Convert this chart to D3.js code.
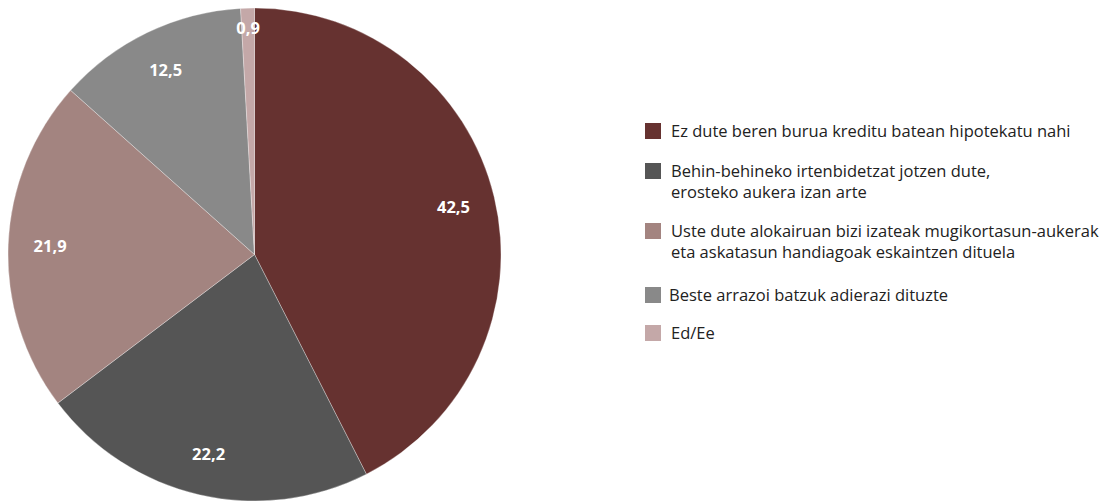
<!DOCTYPE html>
<html><head><meta charset="utf-8">
<script src="https://cdn.jsdelivr.net/npm/d3@7"></script>
<style>
html,body{margin:0;padding:0;background:#fff;}
svg{display:block;}
</style></head>
<body>
<svg id="chart" width="1114" height="501"></svg>
<script>
const categories = [
  ["Ez dute beren burua kreditu batean hipotekatu nahi"],
  ["Behin-behineko irtenbidetzat jotzen dute,", "erosteko aukera izan arte"],
  ["Uste dute alokairuan bizi izateak mugikortasun-aukerak", "eta askatasun handiagoak eskaintzen dituela"],
  ["Beste arrazoi batzuk adierazi dituzte"],
  ["Ed/Ee"]
];
const values = [42.5, 22.2, 21.9, 12.5, 0.9];
const valueLabels = ["42,5", "22,2", "21,9", "12,5", "0,9"];
const colors = ["#663230", "#555555", "#a38480", "#898989", "#c4a8a8"];

const svg = d3.select("#chart");
const cx = 254.5, cy = 254.5, R = 246.5;
const data = values.map((v,i)=>({v, i}));
const pie = d3.pie().value(d=>d.v).sort(null);
const arcs = pie(data);
const arc = d3.arc().innerRadius(0).outerRadius(R);
const g = svg.append("g").attr("transform", `translate(${cx},${cy})`);
g.selectAll("path").data(arcs).enter().append("path")
  .attr("d", arc)
  .attr("fill", d=>colors[d.data.i])
  .attr("stroke", "rgba(255,255,255,0.5)")
  .attr("stroke-width", 0.6);

const labelArc = d3.arc().innerRadius(R*0.83).outerRadius(R*0.83);
const smallArc = d3.arc().innerRadius(R*0.92).outerRadius(R*0.92);
g.selectAll("text.val").data(arcs).enter().append("text")
  .attr("class","val")
  .attr("transform", d=>{
    const c = (d.data.v < 2 ? smallArc : labelArc).centroid(d);
    return `translate(${c[0]},${c[1]})`;
  })
  .attr("text-anchor","middle")
  .attr("dy","0.36em")
  .attr("fill","#fff")
  .attr("font-family","'Open Sans', sans-serif")
  .attr("font-weight","bold")
  .attr("font-size","16.5px")
  .text(d=>valueLabels[d.data.i]);

// legend
const legTops = [123, 163, 223, 287, 325];
const leg = svg.append("g");
categories.forEach((lines, i)=>{
  leg.append("rect").attr("x",645).attr("y",legTops[i]).attr("width",16).attr("height",16).attr("fill",colors[i]);
  const t = leg.append("text")
    .attr("x", 671).attr("y", legTops[i]+14)
    .attr("font-family","'Open Sans', sans-serif")
    .attr("font-size","16.5px")
    .attr("fill","#222");
  lines.forEach((ln,j)=>{
    t.append("tspan").attr("x", i===3 ? 669 : 671).attr("dy", j===0 ? 0 : 21).text(ln);
  });
});
</script>
</body></html>
